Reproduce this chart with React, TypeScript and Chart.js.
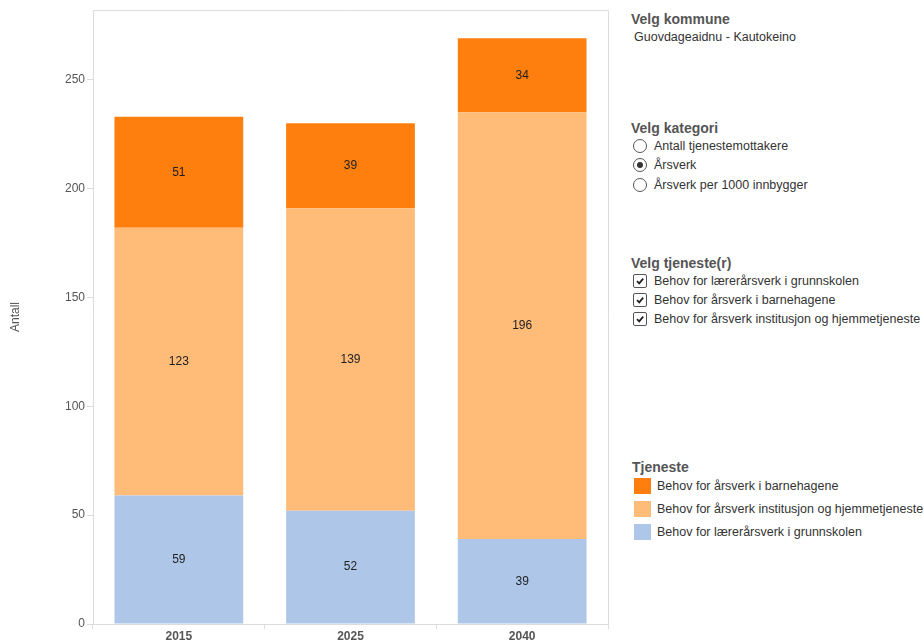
import React, { useEffect, useRef } from "react";
import { Chart, registerables } from "chart.js";

Chart.register(...registerables);

const categories = ["2015", "2025", "2040"];
const grunnskolen = [59, 52, 39];
const institusjon = [123, 139, 196];
const barnehagene = [51, 39, 34];

const seriesNames = [
  "Behov for lærerårsverk i grunnskolen",
  "Behov for årsverk institusjon og hjemmetjeneste",
  "Behov for årsverk i barnehagene",
];
const seriesColors = ["#AEC7E8", "#FFBB78", "#FF7F0E"];

const legendNames = [
  "Behov for årsverk i barnehagene",
  "Behov for årsverk institusjon og hjemmetjeneste",
  "Behov for lærerårsverk i grunnskolen",
];
const legendColors = ["#FF7F0E", "#FFBB78", "#AEC7E8"];

const kategorier = ["Antall tjenestemottakere", "Årsverk", "Årsverk per 1000 innbygger"];
const tjenester = [
  "Behov for lærerårsverk i grunnskolen",
  "Behov for årsverk i barnehagene",
  "Behov for årsverk institusjon og hjemmetjeneste",
];

const FONT = '"Liberation Sans", Arial, Helvetica, sans-serif';

const frameColor = "#dcdcdc";

const framePlugin = {
  id: "frame",
  beforeDatasetsDraw(chart: any) {
    const { ctx, chartArea } = chart;
    ctx.save();
    ctx.strokeStyle = frameColor;
    ctx.lineWidth = 1;
    ctx.beginPath();
    ctx.moveTo(chartArea.left, Math.round(chartArea.top) + 0.5);
    ctx.lineTo(Math.round(chartArea.right) + 0.5, Math.round(chartArea.top) + 0.5);
    ctx.lineTo(Math.round(chartArea.right) + 0.5, chartArea.bottom + 5);
    ctx.stroke();
    ctx.restore();
  },
};

const labelPlugin = {
  id: "segLabels",
  afterDatasetsDraw(chart: any) {
    const { ctx } = chart;
    ctx.save();
    ctx.font = `12px ${FONT}`;
    ctx.fillStyle = "#1e1e1e";
    ctx.textAlign = "center";
    ctx.textBaseline = "middle";
    chart.data.datasets.forEach((ds: any, i: number) => {
      const meta = chart.getDatasetMeta(i);
      meta.data.forEach((el: any, j: number) => {
        const p = el.getCenterPoint();
        ctx.fillText(String(ds.data[j]), p.x, p.y);
      });
    });
    ctx.restore();
  },
};

function ChartCanvas() {
  const ref = useRef<HTMLCanvasElement>(null);
  useEffect(() => {
    if (!ref.current) return;
    const values = [grunnskolen, institusjon, barnehagene];
    const chart = new Chart(ref.current, {
      type: "bar",
      data: {
        labels: categories,
        datasets: values.map((v, i) => ({
          label: seriesNames[i],
          data: v,
          backgroundColor: seriesColors[i],
          borderWidth: 0,
          categoryPercentage: 1,
          barPercentage: 0.75,
        })),
      },
      options: {
        animation: false,
        responsive: false,
        devicePixelRatio: 1,
        layout: { padding: { top: 10, right: 12, left: 0, bottom: 0 } },
        plugins: {
          legend: { display: false },
          tooltip: { enabled: false },
        },
        scales: {
          x: {
            stacked: true,
            afterFit(scale: any) {
              scale.height = 16;
            },
            grid: {
              offset: true,
              drawOnChartArea: false,
              drawTicks: true,
              tickLength: 5,
              color: frameColor,
            },
            border: { display: true, color: frameColor },
            ticks: {
              color: "#555",
              padding: 0,
              font: { family: FONT, size: 12, weight: "bold" },
            },
          },
          y: {
            stacked: true,
            min: 0,
            max: 282,
            afterFit(scale: any) {
              scale.width = 93;
            },
            grid: {
              drawOnChartArea: false,
              drawTicks: true,
              tickLength: 6,
              color: frameColor,
            },
            border: { display: true, color: frameColor },
            ticks: {
              stepSize: 50,
              includeBounds: false,
              color: "#555",
              padding: 2,
              font: { family: FONT, size: 12 },
            },
            title: {
              display: true,
              text: "Antall",
              color: "#555",
              padding: { top: 8, bottom: 0 },
              font: { family: FONT, size: 12 },
            },
          },
        },
      },
      plugins: [framePlugin, labelPlugin],
    } as any);
    return () => chart.destroy();
  }, []);
  return <canvas ref={ref} width={620} height={640} style={{ width: 620, height: 640, display: "block" }} />;
}

const abs = (left: number, top: number): React.CSSProperties => ({
  position: "absolute",
  left,
  top,
  whiteSpace: "nowrap",
});

const titleStyle: React.CSSProperties = {
  fontFamily: FONT,
  fontSize: 14,
  fontWeight: "bold",
  color: "#555",
  lineHeight: "18px",
};

const textStyle: React.CSSProperties = {
  fontFamily: FONT,
  fontSize: 12.5,
  color: "#333",
  lineHeight: "16px",
};

function Radio({ checked }: { checked: boolean }) {
  return (
    <span
      style={{
        position: "absolute",
        left: 0,
        top: 1,
        width: 12,
        height: 12,
        borderRadius: "50%",
        border: "1px solid #555",
        boxSizing: "content-box",
        background: "#fff",
      }}
    >
      {checked && (
        <span
          style={{
            position: "absolute",
            left: 3,
            top: 3,
            width: 6,
            height: 6,
            borderRadius: "50%",
            background: "#333",
          }}
        />
      )}
    </span>
  );
}

function Check() {
  return (
    <span
      style={{
        position: "absolute",
        left: 0,
        top: 1,
        width: 12,
        height: 12,
        border: "1px solid #555",
        borderRadius: 2,
        background: "#fff",
        boxSizing: "content-box",
      }}
    >
      <svg width="12" height="12" viewBox="0 0 12 12" style={{ position: "absolute", left: 0, top: 0 }}>
        <path d="M3 6.2 L5.2 8.4 L9.2 3.6" fill="none" stroke="#222" strokeWidth="1.8" />
      </svg>
    </span>
  );
}

function Panel() {
  const radioTops = [138, 157, 177];
  const checkTops = [273, 292, 311];
  const legendTops = [478, 501, 524];
  return (
    <>
      <div style={{ ...abs(631, 10), ...titleStyle }}>Velg kommune</div>
      <div style={{ ...abs(634, 29), ...textStyle }}>Guovdageaidnu - Kautokeino</div>

      <div style={{ ...abs(631, 119), ...titleStyle }}>Velg kategori</div>
      {kategorier.map((k, i) => (
        <div key={k} style={{ ...abs(633, radioTops[i]), ...textStyle, paddingLeft: 21 }}>
          <Radio checked={i === 1} />
          {k}
        </div>
      ))}

      <div style={{ ...abs(631, 254), ...titleStyle }}>Velg tjeneste(r)</div>
      {tjenester.map((t, i) => (
        <div key={t} style={{ ...abs(633, checkTops[i]), ...textStyle, paddingLeft: 21 }}>
          <Check />
          {t}
        </div>
      ))}

      <div style={{ ...abs(632, 458), ...titleStyle }}>Tjeneste</div>
      {legendNames.map((n, i) => (
        <div key={n} style={{ ...abs(634, legendTops[i]), ...textStyle, paddingLeft: 23, lineHeight: "16px" }}>
          <span
            style={{
              position: "absolute",
              left: 0,
              top: 0,
              width: 17,
              height: 16,
              background: legendColors[i],
            }}
          />
          {n}
        </div>
      ))}
    </>
  );
}

export default function App() {
  return (
    <div
      style={{
        position: "fixed",
        left: 0,
        top: 0,
        width: 924,
        height: 640,
        background: "#fff",
        overflow: "hidden",
      }}
    >
      <div style={{ position: "absolute", left: 0, top: 0 }}>
        <ChartCanvas />
      </div>
      <Panel />
    </div>
  );
}
